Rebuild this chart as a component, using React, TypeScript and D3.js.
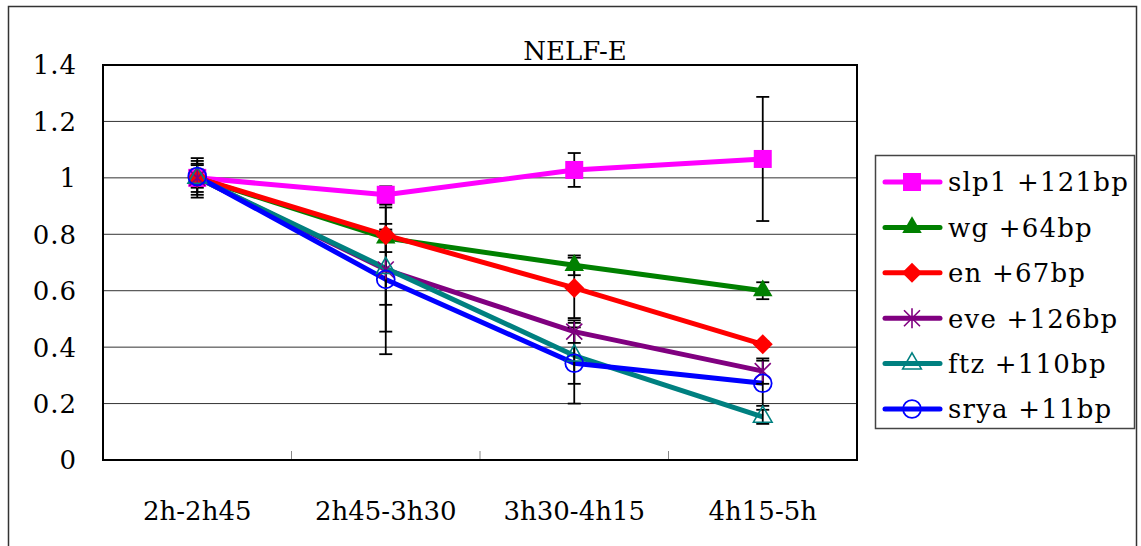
import React from "react";
import * as d3 from "d3";

// chart data
const categories = ["2h-2h45", "2h45-3h30", "3h30-4h15", "4h15-5h"];
const yTicks = [0, 0.2, 0.4, 0.6, 0.8, 1.0, 1.2, 1.4];

const slp1 = [1.0, 0.94, 1.028, 1.067];
const slp1Err = [0.07, 0.03, 0.06, 0.22];
const wg = [1.0, 0.787, 0.69, 0.6];
const wgErr = [0.06, 0.05, 0.035, 0.03];
const en = [1.0, 0.797, 0.61, 0.41];
const enErr = [0.02, 0.02, 0.107, 0.01];
const eve = [1.0, 0.675, 0.455, 0.315];
const eveErr = [0.05, 0.22, 0.04, 0.045];
const ftz = [1.0, 0.68, 0.37, 0.153];
const ftzErr = [0.03, 0.13, 0.1, 0.025];
const srya = [1.005, 0.64, 0.343, 0.272];
const sryaErr = [0.04, 0.265, 0.143, 0.08];

const seriesNames = ["slp1 +121bp", "wg +64bp", "en +67bp", "eve +126bp", "ftz +110bp", "srya +11bp"];
const seriesColors = ["#ff00ff", "#008000", "#ff0000", "#800080", "#008080", "#0000ff"];
const seriesMarkers = ["square", "triangle", "diamond", "star", "triangleOpen", "circleOpen"];

const series = seriesNames.map((name, i) => ({
    name,
    color: seriesColors[i],
    marker: seriesMarkers[i],
    values: [slp1, wg, en, eve, ftz, srya][i],
    errors: [slp1Err, wgErr, enErr, eveErr, ftzErr, sryaErr][i]
}));

const FONT = "'DejaVu Serif', 'Liberation Serif', serif";

const plot = {left: 103, right: 857, top: 65, bottom: 460};

function Marker({type, color, x, y}: {type: string, color: string, x: number, y: number})
{
    const t = `translate(${x},${y})`;
    if (type === "square")
        return <path transform={t} d={d3.symbol(d3.symbolSquare, 324)()!} fill={color}/>;
    if (type === "diamond")
        return <path transform={`${t} rotate(45)`} d={d3.symbol(d3.symbolSquare, 200)()!} fill={color}/>;
    if (type === "triangle")
        return <path transform={t} d={d3.symbol(d3.symbolTriangle, 165)()!} fill={color}/>;
    if (type === "triangleOpen")
        return <path transform={t} d={d3.symbol(d3.symbolTriangle, 150)()!} fill="none" stroke={color} strokeWidth={1.6}/>;
    if (type === "circleOpen")
        return <path transform={t} d={d3.symbol(d3.symbolCircle, 250)()!} fill="none" stroke={color} strokeWidth={1.8}/>;
    // star: vertical stroke plus an X
    return (
        <path transform={t} d="M0,-10L0,10M-8,-8L8,8M-8,8L8,-8" fill="none" stroke={color} strokeWidth={1.6}/>
    );
}

export default function App()
{
    const xScale = d3.scaleBand().domain(categories).range([plot.left, plot.right]);
    const xc = (c: string) => xScale(c)! + xScale.bandwidth() / 2;
    const yScale = d3.scaleLinear().domain([0, 1.4]).range([plot.bottom, plot.top]);

    const line = d3.line<number>()
        .x((d, i) => xc(categories[i]))
        .y(d => yScale(d));

    const legendY = d3.scaleLinear().domain([0, 5]).range([182, 409]);

    return (
        <svg width={1141} height={546} style={{position: "absolute", left: 0, top: 0, background: "#fff"}}>
            {/* outer frame */}
            <rect x={8.5} y={6.5} width={1128} height={560} fill="none" stroke="#333" strokeWidth={1.5}/>

            {/* grid */}
            {yTicks.slice(1, -1).map(t => (
                <line key={t} x1={plot.left} x2={plot.right} y1={yScale(t)} y2={yScale(t)} stroke="#333" strokeWidth={1}/>
            ))}
            {/* x category ticks */}
            {categories.slice(1).map(c => (
                <line key={c} x1={xScale(c)!} x2={xScale(c)!} y1={plot.bottom} y2={plot.bottom - 9} stroke="#888" strokeWidth={1}/>
            ))}
            <rect x={plot.left} y={plot.top} width={plot.right - plot.left} height={plot.bottom - plot.top}
                  fill="none" stroke="#000" strokeWidth={2}/>

            {/* y labels */}
            {yTicks.map(t => (
                <text key={t} x={77} y={yScale(t)} dy="0.36em" textAnchor="end" fontFamily={FONT} fontSize={26}
                      letterSpacing={1} fill="#000">
                    {t === 0 ? "0" : d3.format(".1f")(t).replace(/\.0$/, "")}
                </text>
            ))}
            {/* x labels */}
            {categories.map(c => (
                <text key={c} x={xc(c)} y={520} textAnchor="middle" fontFamily={FONT} fontSize={26} fill="#000">{c}</text>
            ))}

            <text x={575} y={60} textAnchor="middle" fontFamily={FONT} fontSize={26} fill="#000">NELF-E</text>

            {/* lines */}
            {series.map(s => (
                <path key={s.name} d={line(s.values)!} fill="none" stroke={s.color} strokeWidth={5} strokeLinejoin="round"/>
            ))}

            {/* error bars */}
            {series.map(s => s.values.map((v, i) => {
                const x = xc(categories[i]);
                const y1 = yScale(v + s.errors[i]);
                const y2 = yScale(v - s.errors[i]);
                return (
                    <g key={s.name + i} stroke="#000" strokeWidth={1.8}>
                        <line x1={x} x2={x} y1={y1} y2={y2}/>
                        <line x1={x - 6.5} x2={x + 6.5} y1={y1} y2={y1}/>
                        <line x1={x - 6.5} x2={x + 6.5} y1={y2} y2={y2}/>
                    </g>
                );
            }))}

            {/* markers */}
            {series.map(s => s.values.map((v, i) => (
                <Marker key={s.name + i} type={s.marker} color={s.color} x={xc(categories[i])} y={yScale(v)}/>
            )))}

            {/* legend */}
            <rect x={875.5} y={155.5} width={259} height={273} fill="#fff" stroke="#444" strokeWidth={1.5}/>
            {series.map((s, i) => (
                <g key={s.name}>
                    <line x1={885} x2={940} y1={legendY(i)} y2={legendY(i)} stroke={s.color} strokeWidth={5} strokeLinecap="round"/>
                    <Marker type={s.marker} color={s.color} x={912} y={legendY(i)}/>
                    <text x={948} y={legendY(i)} dy="0.36em" fontFamily={FONT} fontSize={26} letterSpacing={1.2}
                          fill="#000">{s.name}</text>
                </g>
            ))}
        </svg>
    );
}
